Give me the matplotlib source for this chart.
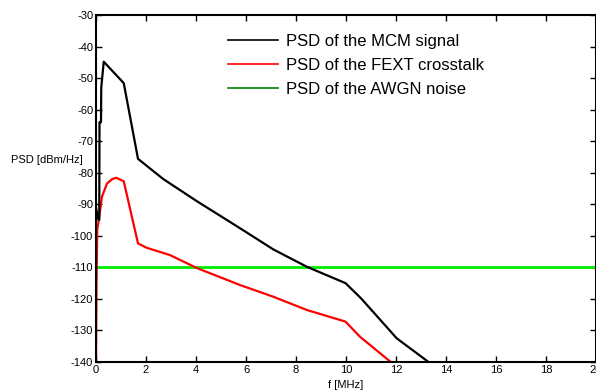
import matplotlib
matplotlib.use("Agg")
import matplotlib.pyplot as plt
from matplotlib.lines import Line2D

plt.rcParams['font.family'] = ['Liberation Sans', 'DejaVu Sans']
plt.rcParams['axes.unicode_minus'] = False

# MCM signal PSD
mcm_f = [0.0, 0.08, 0.13, 0.14, 0.20, 0.21, 0.31, 1.11, 1.68, 2.69, 4.03, 5.36,
         6.16, 7.09, 8.43, 9.98, 10.60, 12.03, 13.30]
mcm_db = [-91.0, -94.5, -95.0, -64.0, -64.0, -53.0, -44.8, -51.6, -75.6, -82.0,
          -89.0, -95.6, -99.6, -104.3, -109.8, -115.0, -119.8, -132.5, -140.0]

# FEXT crosstalk PSD
fext_f = [0.0, 0.02, 0.05, 0.11, 0.24, 0.44, 0.65, 0.81, 1.11, 1.68, 2.03, 2.96,
          4.03, 5.76, 7.09, 8.43, 9.98, 10.56, 11.79]
fext_db = [-140.0, -115.0, -98.0, -95.0, -87.6, -83.4, -82.0, -81.6, -82.7,
           -102.4, -103.8, -106.1, -110.2, -115.6, -119.3, -123.5, -127.2,
           -132.0, -140.0]

# AWGN noise PSD
awgn_f = [0.0, 20.0]
awgn_db = [-110.0, -110.0]

legend_labels = ["PSD of the MCM signal", "PSD of the FEXT crosstalk",
                 "PSD of the AWGN noise"]

fig = plt.figure(figsize=(5.96, 3.90), dpi=100)
ax = fig.add_axes([96 / 596, 1 - 362 / 390, 500 / 596, 347 / 390])

ax.plot(awgn_f, awgn_db, color='#00ee00', lw=2.0, solid_capstyle='butt')
ax.plot(fext_f, fext_db, color='#ff0000', lw=1.6)
ax.plot(mcm_f, mcm_db, color='black', lw=1.6)

ax.set_xlim(0, 20)
ax.set_ylim(-140, -30)
ax.set_xticks(range(0, 21, 2))
ax.set_yticks(range(-140, -29, 10))
ax.tick_params(direction='in', length=4, width=1, labelsize=8,
               top=True, right=True, pad=2, colors='black')
for s in ax.spines.values():
    s.set_linewidth(1.5)

ax.set_xlabel('f [MHz]', fontsize=8, labelpad=4)
ax.set_ylabel('PSD [dBm/Hz]', fontsize=8, rotation=0, ha='center', va='center')
ax.yaxis.set_label_coords(-0.098, 0.582)

handles = [Line2D([], [], color='black', lw=1.2),
           Line2D([], [], color='red', lw=1.2),
           Line2D([], [], color='#008000', lw=1.2)]
ax.legend(handles, legend_labels, loc='upper left', bbox_to_anchor=(0.251, 0.964),
          frameon=False, fontsize=12, handlelength=3.0, handletextpad=0.5,
          labelspacing=0.54, borderaxespad=0)

fig.savefig('out.png', dpi=100)
